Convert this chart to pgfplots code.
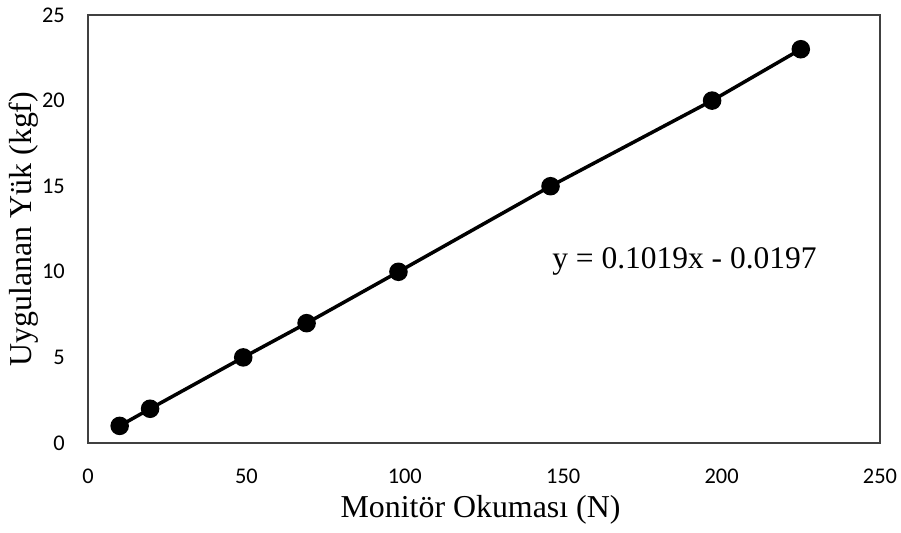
\documentclass[border=0pt]{standalone}
\usepackage{pgfplots}
\pgfplotsset{compat=1.18}
\usepackage{fontspec}
\setmainfont{Liberation Serif}
\newfontfamily\carlito{Carlito}
\begin{document}
\begin{tikzpicture}
\begin{axis}[
  scale only axis,
  width=792bp, height=428bp,
  xmin=0, xmax=250, ymin=0, ymax=25,
  xtick={0,50,100,150,200,250},
  ytick={0,5,10,15,20,25},
  major tick length=0pt,
  axis line style={black!75, line width=1.3bp},
  /pgf/number format/assume math mode=true,
  ticklabel style={font=\carlito\fontsize{22.5}{22.5}\selectfont, inner sep=0pt},
  xticklabel style={anchor=north, yshift=-26bp},
  yticklabel style={anchor=east, xshift=-23bp},
  xlabel={Monitör Okuması (N)},
  ylabel={Uygulanan Yük (kgf)},
  label style={font=\fontsize{32}{32}\selectfont},
  xlabel style={at={(axis description cs:0.4956,-0.1729)}, anchor=base},
  ylabel style={at={(axis description cs:-0.0808,0.5)}, anchor=center},
  clip=false,
]
\coordinate (sw) at (rel axis cs:0,0);
\coordinate (ne) at (rel axis cs:1,1);
\addplot[black, line width=3.5bp, mark=*, mark size=7.5bp, mark options={fill=black}]
  coordinates {(10,1) (19.6,2) (49,5) (69,7) (98,10) (146,15) (197,20) (225,23)};
\node[anchor=base west, inner sep=0pt, font=\fontsize{31.6}{31.6}\selectfont] at (axis cs:146.5,10.22) {y = 0.1019x - 0.0197};
\end{axis}
\pgfresetboundingbox
\path[use as bounding box] ([shift={(-88bp,-90bp)}]sw) rectangle ([shift={(21bp,15bp)}]ne);
\end{tikzpicture}
\end{document}
